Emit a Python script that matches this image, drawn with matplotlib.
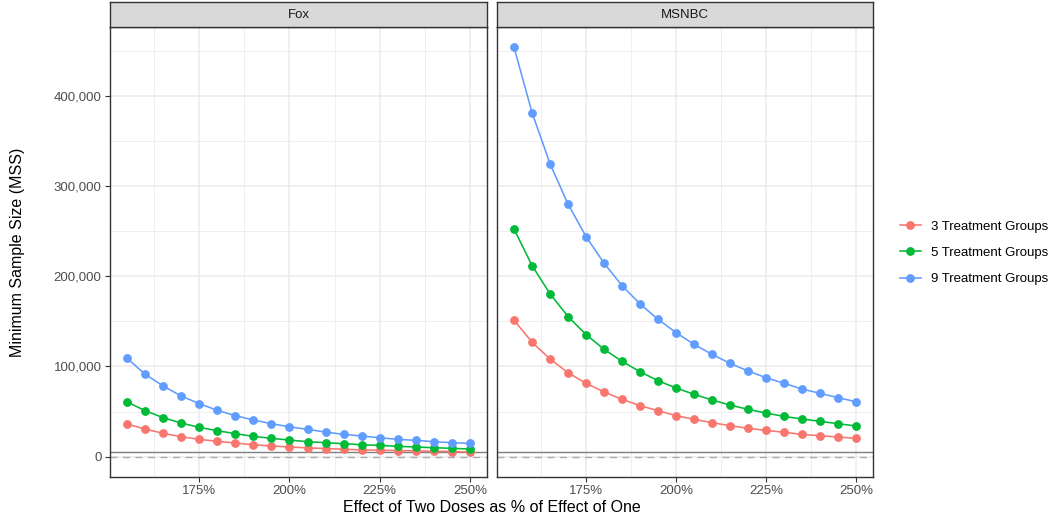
import matplotlib
matplotlib.use("Agg")
import matplotlib.pyplot as plt
from matplotlib.lines import Line2D

plt.rcParams['font.family'] = ['Liberation Sans', 'DejaVu Sans']

# effect of two doses as % of effect of one
effect = [155, 160, 165, 170, 175, 180, 185, 190, 195, 200,
          205, 210, 215, 220, 225, 230, 235, 240, 245, 250]

fox_3 = [36100, 30600, 25700, 22000, 19100, 16900, 15000, 13100, 11700, 10600,
         9600, 8900, 8100, 7400, 7000, 6600, 6300, 5900, 5500, 4900]
fox_5 = [60600, 50900, 43100, 37200, 32400, 28700, 25400, 22400, 20200, 18300,
         16500, 15400, 14300, 13100, 12400, 11300, 10600, 9800, 9100, 8300]
fox_9 = [109100, 91300, 78300, 67200, 58700, 51300, 45400, 40600, 36500, 33000,
         30200, 27200, 24600, 22800, 20900, 19100, 18000, 16500, 15400, 14600]

msnbc_3 = [151300, 126900, 108300, 93100, 81300, 71700, 63500, 56500, 50900, 45400,
           41300, 37600, 34300, 31300, 29100, 26900, 24600, 23100, 21700, 20200]
msnbc_5 = [252400, 212000, 180600, 155400, 135400, 119100, 105700, 94200, 84200, 76100,
           69100, 62800, 57200, 52400, 48300, 44600, 41700, 39100, 36500, 33900]
msnbc_9 = [454200, 381700, 325000, 280200, 244200, 214700, 189800, 169400, 152400, 137600,
           124600, 113500, 103500, 95000, 87600, 81300, 75000, 70200, 65400, 60900]

groups = ["3 Treatment Groups", "5 Treatment Groups", "9 Treatment Groups"]
colors = ["#F8766D", "#00BA38", "#619CFF"]
panels = {"Fox": [fox_3, fox_5, fox_9], "MSNBC": [msnbc_3, msnbc_5, msnbc_9]}

solid_ref = 4800
dashed_ref = 0

W, H = 1050, 521
fig = plt.figure(figsize=(W / 100, H / 100), dpi=100)

def px_axes(x0, y0, x1, y1):
    return fig.add_axes([x0 / W, 1 - y1 / H, (x1 - x0) / W, (y1 - y0) / H])

lefts = [(110, 487), (497, 873)]
for i, (name, series) in enumerate(panels.items()):
    x0, x1 = lefts[i]
    ax = px_axes(x0, 27, x1, 477)
    ax.set_xlim(150.25, 254.75)
    ax.set_ylim(-22710, 476910)
    ax.set_xticks([175, 200, 225, 250])
    ax.set_xticks([162.5, 187.5, 212.5, 237.5], minor=True)
    ax.set_yticks([0, 100000, 200000, 300000, 400000])
    ax.set_yticks([50000, 150000, 250000, 350000, 450000], minor=True)
    ax.grid(True, which='major', color='#EBEBEB', lw=1.1, zorder=0)
    ax.grid(True, which='minor', color='#EBEBEB', lw=0.55, zorder=0)
    ax.set_axisbelow(True)
    ax.set_xticklabels([f"{t}%" for t in [175, 200, 225, 250]])
    if i == 0:
        ax.set_yticklabels([f"{t:,}" for t in [0, 100000, 200000, 300000, 400000]])
    else:
        ax.tick_params(axis='y', which='both', left=False, labelleft=False)
    ax.tick_params(which='major', length=3.5, width=0.8, color='#333333',
                   labelsize=9.5, labelcolor='#4D4D4D', pad=2.5)
    ax.tick_params(which='minor', length=0)
    for s in ax.spines.values():
        s.set_color('#333333')
        s.set_linewidth(1.0)

    ax.axhline(dashed_ref, color='#ABABAB', lw=1.0, ls=(0, (5, 4)), zorder=1)
    ax.axhline(solid_ref, color='#7F7F7F', lw=1.0, zorder=1)
    for vals, c in zip(series, colors):
        ax.plot(effect, vals, color=c, lw=1.15, marker='o', ms=5.3, zorder=3)

    sax = px_axes(x0, 2, x1, 27)
    sax.set_facecolor('#D9D9D9')
    sax.set_xticks([])
    sax.set_yticks([])
    for s in sax.spines.values():
        s.set_color('#333333')
        s.set_linewidth(1.0)
    sax.text(0.5, 0.5, name, ha='center', va='center', fontsize=9.5,
             color='#1A1A1A', transform=sax.transAxes)

fig.text(18 / W, 1 - 252 / H, "Minimum Sample Size (MSS)", rotation=90,
         ha='center', va='center', fontsize=11.5)
fig.text(492 / W, 1 - 508 / H, "Effect of Two Doses as % of Effect of One",
         ha='center', va='center', fontsize=11.5)

handles = [Line2D([], [], color=c, lw=1.15, marker='o', ms=5.3) for c in colors]
fig.legend(handles, groups, loc='center left', bbox_to_anchor=(893 / W, 1 - 253 / H),
           frameon=False, fontsize=9.5, handlelength=1.6, handletextpad=0.8,
           labelspacing=1.05, borderpad=0)

fig.savefig("out.png", dpi=100)
